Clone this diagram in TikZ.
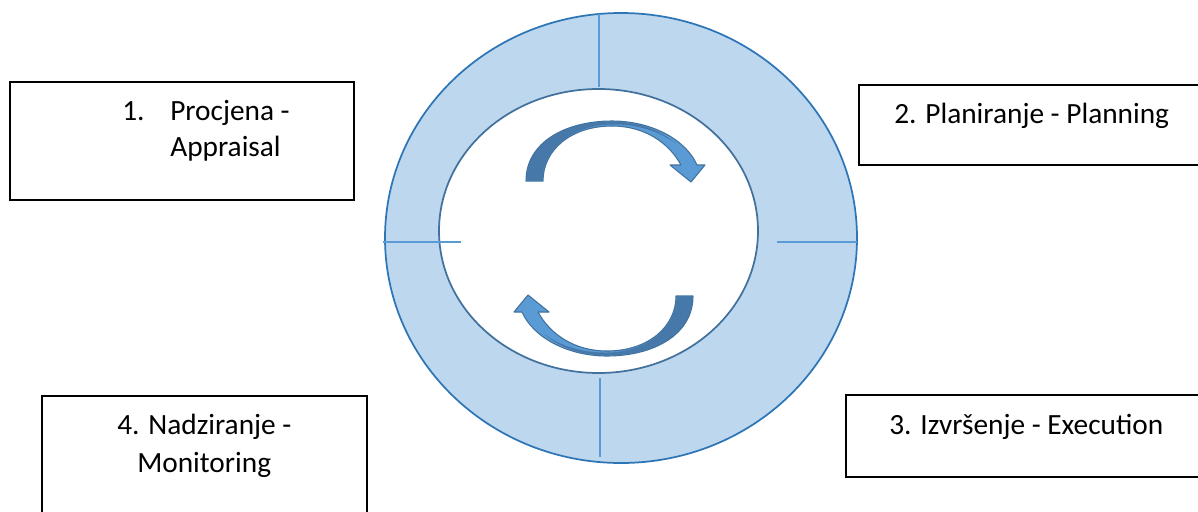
\documentclass[tikz,border=0pt]{standalone}
\usepackage{fontspec}
\setmainfont{Carlito}
\usetikzlibrary{shapes.geometric}
\definecolor{ringfill}{HTML}{BDD7EE}
\definecolor{outerline}{HTML}{2E75B6}
\definecolor{innerline}{HTML}{41719C}
\definecolor{divline}{HTML}{5B9BD5}
\definecolor{arrowlight}{HTML}{5B9BD5}
\definecolor{arrowdark}{HTML}{4678AA}
\definecolor{arrowedge}{HTML}{41719C}
\tikzset{
  box/.style={draw=black, line width=1.1pt, rectangle, inner sep=0pt},
  label/.style={inner sep=0pt, anchor=base west, font=\fontsize{22}{27}\selectfont},
  divider/.style={draw=divline, line width=0.8pt},
}
\begin{document}
\begin{tikzpicture}[x=0.75pt, y=-0.75pt]
\useasboundingbox (0,0) rectangle (1198,511);
\clip (0,0) rectangle (1198,511);
% ring
\node (outer) [ellipse, draw=outerline, fill=ringfill, line width=1.3pt, minimum width=472*0.75pt, minimum height=450*0.75pt, inner sep=0pt] at (621,238) {};
\node (inner) [ellipse, draw=innerline, fill=white, line width=1.3pt, minimum width=319*0.75pt, minimum height=284*0.75pt, inner sep=0pt] at (598.5,231) {};
% dividers
\coordinate (dt1) at (599,14); \coordinate (dt2) at (599,87);
\coordinate (db1) at (600,378); \coordinate (db2) at (600,457);
\coordinate (dl1) at (383,242); \coordinate (dl2) at (461,242);
\coordinate (dr1) at (777,242); \coordinate (dr2) at (857,242);
\draw[divider] (dt1) -- (dt2);
\draw[divider] (db1) -- (db2);
\draw[divider] (dl1) -- (dl2);
\draw[divider] (dr1) -- (dr2);
% curved arrows
\foreach \rot in {0,180}{
\begin{scope}[rotate around={\rot:(609.5,238.5)}]
\fill[arrowlight]
  (526,181) .. controls (526,142) and (566,121) .. (612,121)
  .. controls (652,121) and (686,140) .. (697,165)
  -- (705,165) -- (691,182) -- (670,165) -- (681,165)
  .. controls (669,143) and (645,126) .. (612,126)
  .. controls (571,126) and (543,150) .. (543,181) -- cycle;
\fill[arrowdark]
  (526.6,180.4) .. controls (526.6,142) and (566,121.6) .. (612,121.6)
  .. controls (640,121.6) and (662,131) .. (676,144)
  .. controls (662,133) and (640,124) .. (612,124.5)
  .. controls (571,125) and (542.4,150) .. (542.4,180.4) -- cycle;
\draw[arrowedge, line width=0.8pt, line join=round]
  (526,181) .. controls (526,142) and (566,121) .. (612,121)
  .. controls (652,121) and (686,140) .. (697,165)
  -- (705,165) -- (691,182) -- (670,165) -- (681,165)
  .. controls (669,143) and (645,126) .. (612,126)
  .. controls (571,126) and (543,150) .. (543,181) -- cycle;
\end{scope}
}
% boxes
\node (b1) [box, minimum width=344*0.75pt, minimum height=118*0.75pt] at (182,141) {};
\node (b2) [box, minimum width=350*0.75pt, minimum height=80*0.75pt] at (1034,125) {};
\node (b3) [box, minimum width=362*0.75pt, minimum height=82*0.75pt] at (1027,436) {};
\node (b4) [box, minimum width=325*0.75pt, minimum height=140*0.75pt] at (204.5,466) {};
% texts
\node (t1n) [label] at (122,120) {1.};
\node (t1a) [label] at (170,120) {Procjena -};
\node (t1b) [label] at (170,156) {Appraisal};
\node (t2) [label] at (894,123) {2. Planiranje - Planning};
\node (t3) [label] at (889,434) {3. Izvršenje - Execution};
\node (t4a) [label] at (117,434) {4. Nadziranje -};
\node (t4b) [label] at (137,472) {Monitoring};
\end{tikzpicture}
\end{document}
